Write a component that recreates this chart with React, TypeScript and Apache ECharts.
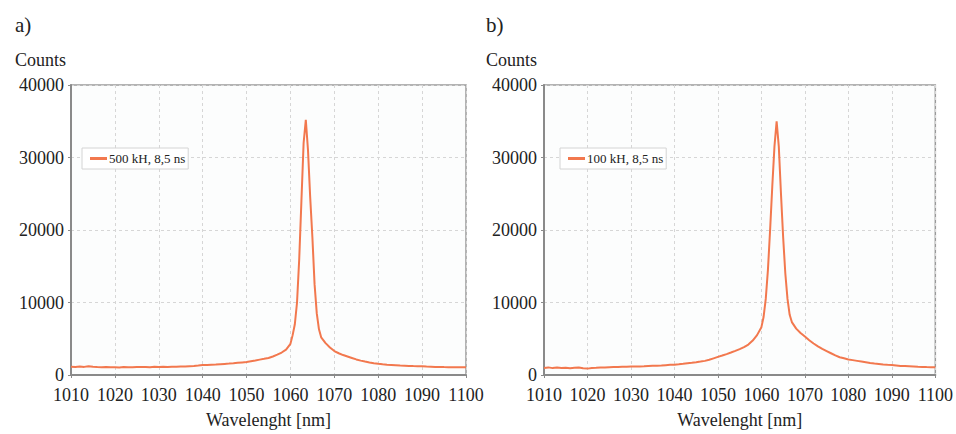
import React, { useEffect, useRef } from "react";
import * as echarts from "echarts";

const wavelengths = [
  1010, 1011, 1012, 1013, 1014, 1015, 1016, 1017, 1018, 1019,
  1020, 1021, 1022, 1023, 1024, 1025, 1026, 1027, 1028, 1029,
  1030, 1031, 1032, 1033, 1034, 1035, 1036, 1037, 1038, 1039,
  1040, 1041, 1042, 1043, 1044, 1045, 1046, 1047, 1048, 1049,
  1050, 1051, 1052, 1053, 1054, 1055, 1056, 1057, 1058, 1059,
  1060, 1060.5, 1061, 1061.5, 1062, 1062.5, 1063, 1063.5, 1064, 1064.5, 1065, 1065.5, 1066, 1066.5, 1067,
  1068, 1069, 1070, 1071, 1072, 1073, 1074, 1075, 1076, 1077,
  1078, 1079, 1080, 1081, 1082, 1083, 1084, 1085, 1086, 1087,
  1088, 1089, 1090, 1091, 1092, 1093, 1094, 1095, 1096, 1097,
  1098, 1099, 1100,
];

const countsA = [
  1150, 1100, 1180, 1120, 1220, 1130, 1100, 1080, 1120, 1060,
  1080, 1040, 1100, 1060, 1080, 1120, 1090, 1110, 1080, 1130,
  1110, 1140, 1100, 1150, 1130, 1180, 1160, 1210, 1250, 1300,
  1370, 1390, 1420, 1450, 1490, 1530, 1570, 1620, 1680, 1740,
  1800, 1900, 2000, 2120, 2230, 2350, 2550, 2800, 3100, 3500,
  4300, 5500, 7000, 10000, 16000, 24000, 32000, 35200, 31000, 24500, 19000, 12500, 8500, 6300, 5200,
  4400, 3800, 3300, 3000, 2750, 2550, 2350, 2150, 1980, 1850,
  1730, 1630, 1550, 1480, 1420, 1380, 1340, 1300, 1280, 1250,
  1230, 1220, 1200, 1160, 1140, 1110, 1120, 1090, 1080, 1070,
  1060, 1070, 1070,
];

const countsB = [
  980, 1050, 950, 1020, 960, 1000, 940, 990, 1030, 920,
  880, 950, 990, 1050, 1020, 1080, 1100, 1120, 1140, 1130,
  1160, 1170, 1180, 1200, 1230, 1260, 1290, 1320, 1360, 1400,
  1430, 1480, 1540, 1610, 1680, 1760, 1850, 1950, 2100, 2300,
  2500, 2680, 2880, 3100, 3330, 3570, 3850, 4200, 4750, 5500,
  6600, 8000, 10500, 14500, 20000, 26000, 31500, 35000, 31500, 25000, 19000, 14000, 10500, 8300, 7300,
  6400, 5800, 5300, 4800, 4350, 3950, 3600, 3300, 3000, 2700,
  2450, 2300, 2150, 2050, 1950, 1850, 1750, 1650, 1580, 1520,
  1460, 1420, 1390, 1320, 1250, 1230, 1200, 1170, 1130, 1110,
  1090, 1080, 1070,
];

const seriesNames = ["500 kH, 8,5 ns", "100 kH, 8,5 ns"];
const panelLabels = ["a)", "b)"];
const yAxisTitle = "Counts";
const xAxisTitle = "Wavelenght [nm]";

const FONT = "'Liberation Serif', 'DejaVu Serif', serif";
const LINE_COLOR = "#f2784e";
const TEXT_COLOR = "#222";

export default function App() {
  const ref = useRef<HTMLDivElement>(null);

  useEffect(() => {
    document.body.style.margin = "0";
    if (!ref.current) return;
    const chart = echarts.init(ref.current, null, { renderer: "svg" });

    const grids = [
      { left: 71, top: 85, width: 395, height: 298 },
      { left: 544, top: 85, width: 395, height: 298 },
    ];

    const plain = (v: number) => String(v);

    const mkX = (gi: number) => ({
      type: "value",
      gridIndex: gi,
      min: 1010,
      max: 1100,
      interval: 10,
      name: xAxisTitle,
      nameLocation: "middle",
      nameGap: 36,
      nameTextStyle: { fontFamily: FONT, fontSize: 18, color: TEXT_COLOR },
      axisLine: { show: true, onZero: false, lineStyle: { color: "#8a8a8a", width: 2 } },
      axisTick: { show: true, length: 3, lineStyle: { color: "#8a8a8a" } },
      axisLabel: { fontFamily: FONT, fontSize: 18, color: TEXT_COLOR, margin: 11, formatter: plain },
      splitLine: { show: true, lineStyle: { color: "#d6d6d6", type: [3, 3], width: 1 } },
    });

    const mkY = (gi: number) => ({
      type: "value",
      gridIndex: gi,
      min: 0,
      max: 40000,
      interval: 10000,
      axisLine: { show: true, lineStyle: { color: "#8a8a8a", width: 2 } },
      axisTick: { show: true, length: 3, lineStyle: { color: "#8a8a8a" } },
      axisLabel: { fontFamily: FONT, fontSize: 18, color: TEXT_COLOR, margin: 7, formatter: plain },
      splitLine: { show: true, lineStyle: { color: "#d6d6d6", type: [3, 3], width: 1 } },
    });

    const dataA = wavelengths.map((w, i) => [w, countsA[i]]);
    const dataB = wavelengths.map((w, i) => [w, countsB[i]]);

    const legendBase = {
      orient: "vertical",
      top: 148,
      icon: "rect",
      itemWidth: 17,
      itemHeight: 3,
      padding: [4, 3, 4, 8],
      borderColor: "#d4d4d4",
      borderWidth: 1,
      backgroundColor: "#ffffff",
      textStyle: { fontFamily: FONT, fontSize: 13, color: TEXT_COLOR, padding: [0, 0, 0, -3] },
    };

    chart.setOption({
      animation: false,
      backgroundColor: "#ffffff",
      title: [
        { text: panelLabels[0], left: 10, top: 9, textStyle: { fontFamily: FONT, fontSize: 21, fontWeight: "normal", color: TEXT_COLOR } },
        { text: yAxisTitle, left: 10, top: 46, textStyle: { fontFamily: FONT, fontSize: 18, fontWeight: "normal", color: TEXT_COLOR } },
        { text: panelLabels[1], left: 481, top: 9, textStyle: { fontFamily: FONT, fontSize: 21, fontWeight: "normal", color: TEXT_COLOR } },
        { text: yAxisTitle, left: 481, top: 46, textStyle: { fontFamily: FONT, fontSize: 18, fontWeight: "normal", color: TEXT_COLOR } },
      ],
      legend: [
        { ...legendBase, left: 82, data: [seriesNames[0]] },
        { ...legendBase, left: 560, data: [seriesNames[1]] },
      ],
      grid: grids.map((g) => ({
        ...g,
        show: true,
        backgroundColor: "#fcfdfd",
        borderColor: "#9a9a9a",
        borderWidth: 1.5,
      })),
      xAxis: [mkX(0), mkX(1)],
      yAxis: [mkY(0), mkY(1)],
      series: [
        {
          name: seriesNames[0],
          type: "line",
          xAxisIndex: 0,
          yAxisIndex: 0,
          data: dataA,
          showSymbol: false,
          symbol: "none",
          lineStyle: { color: LINE_COLOR, width: 2 },
          itemStyle: { color: LINE_COLOR },
        },
        {
          name: seriesNames[1],
          type: "line",
          xAxisIndex: 1,
          yAxisIndex: 1,
          data: dataB,
          showSymbol: false,
          symbol: "none",
          lineStyle: { color: LINE_COLOR, width: 2 },
          itemStyle: { color: LINE_COLOR },
        },
      ],
    });

    return () => chart.dispose();
  }, []);

  return <div ref={ref} style={{ width: 956, height: 434 }} />;
}
